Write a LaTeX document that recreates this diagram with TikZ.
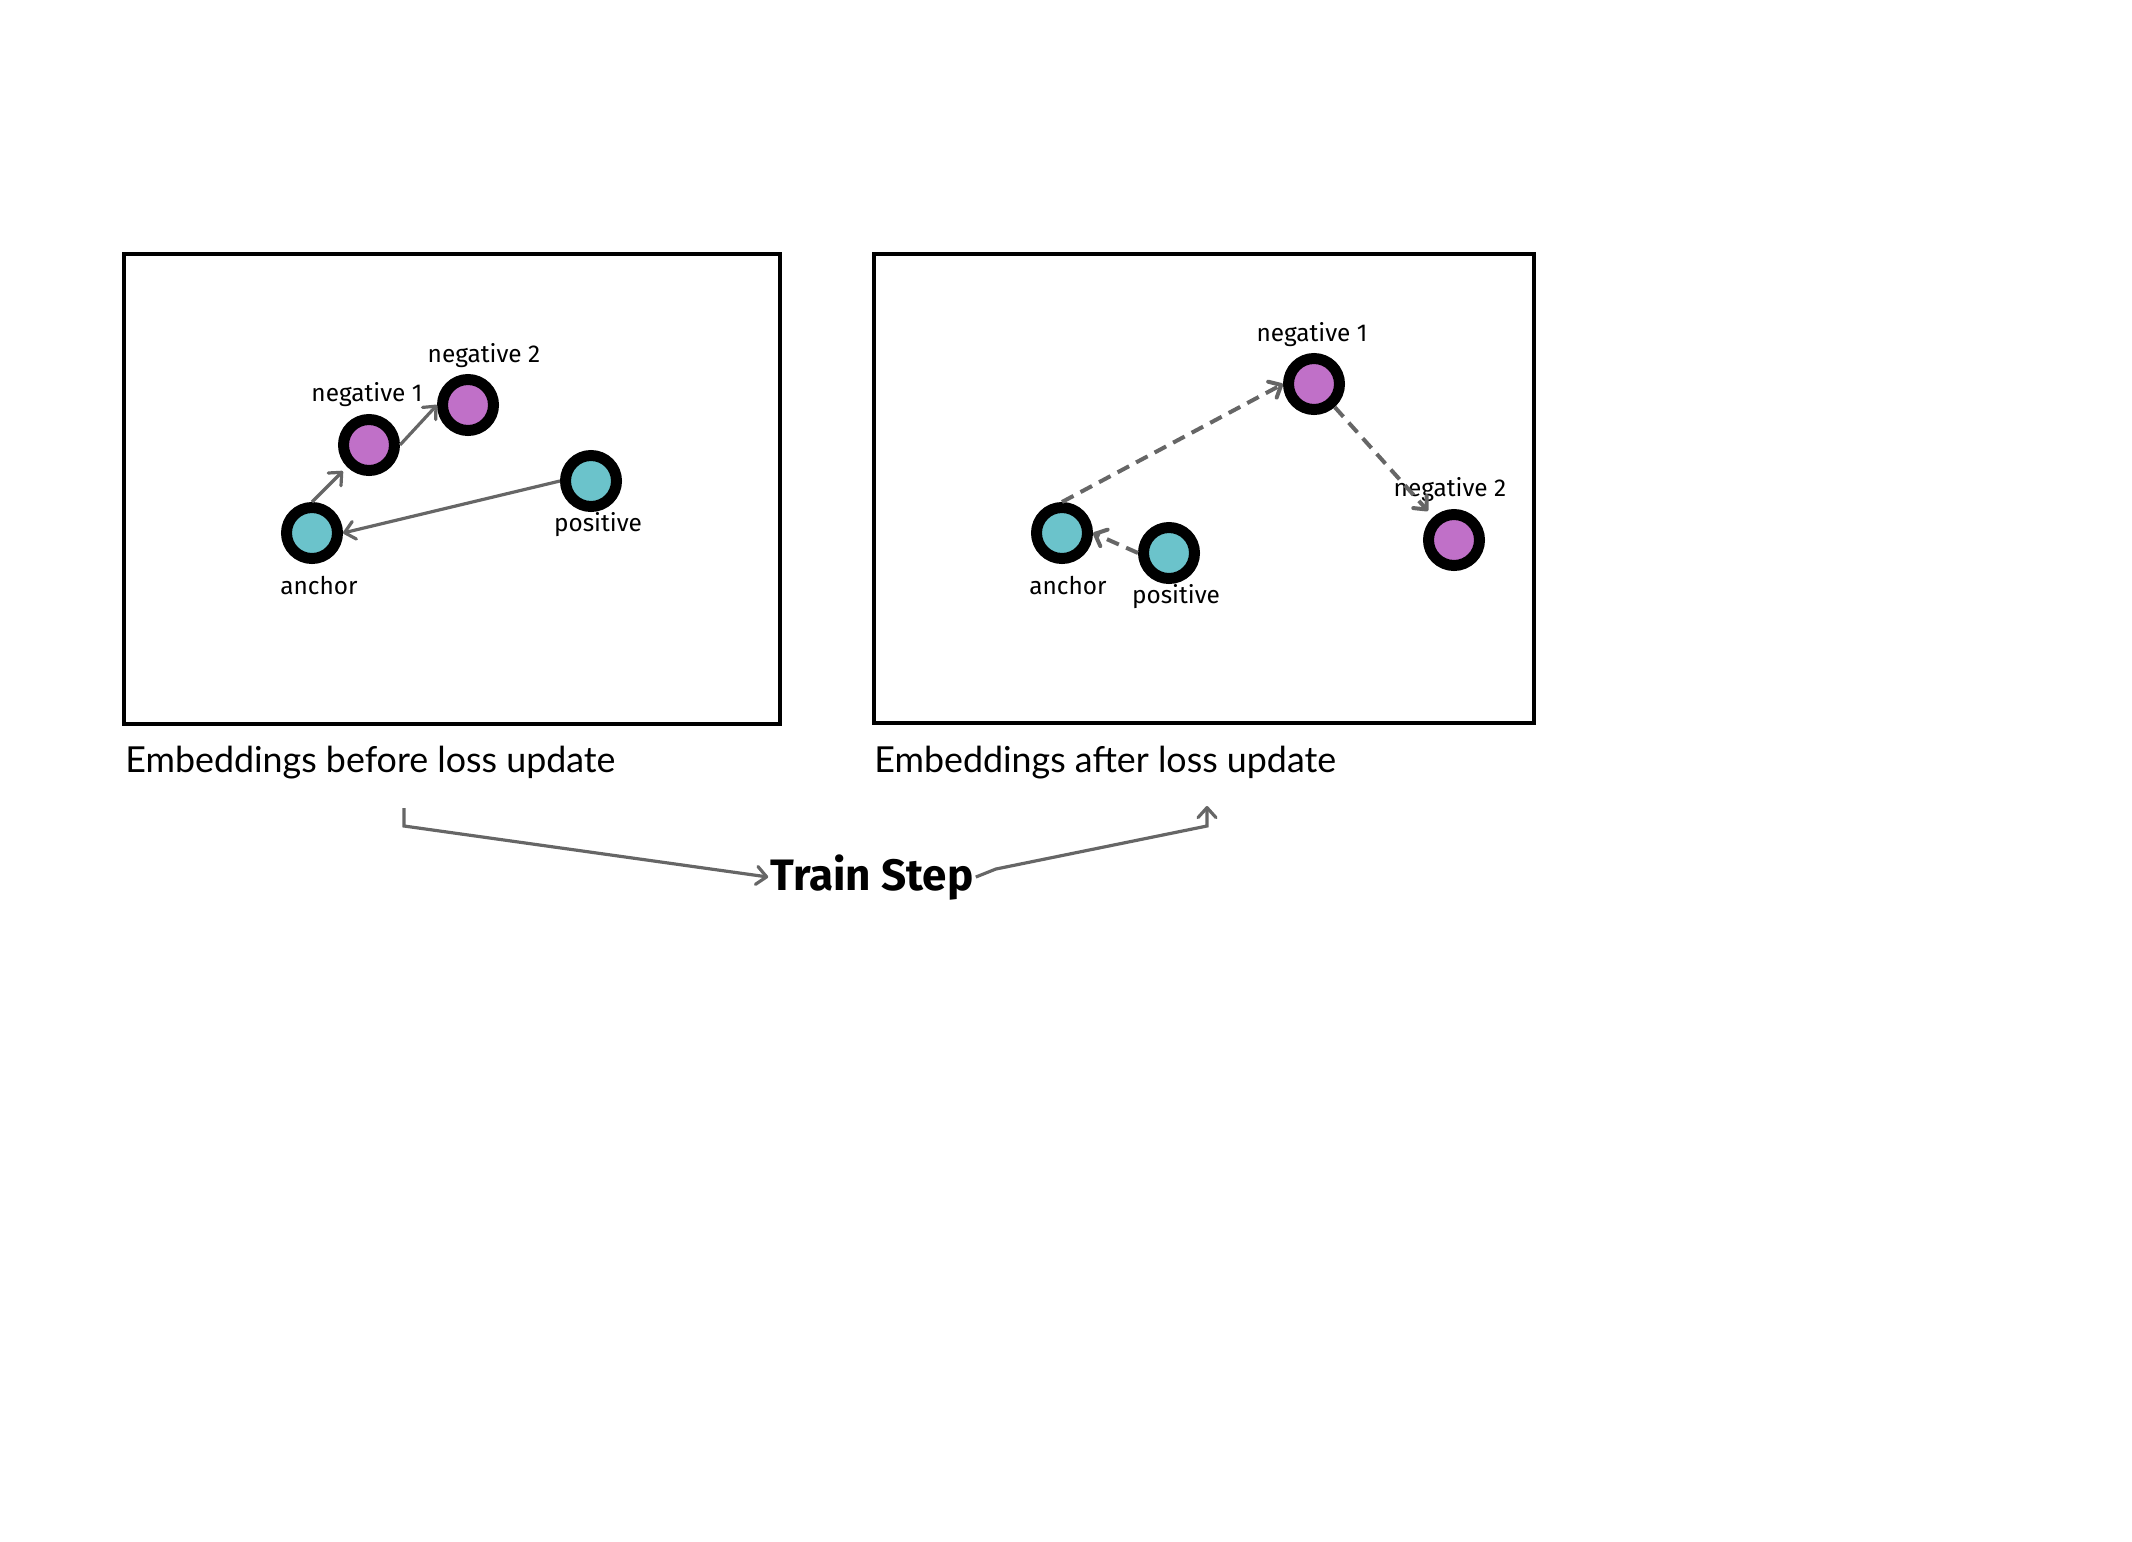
\documentclass[tikz,border=0pt]{standalone}
\usepackage{fontspec}
\setmainfont{Lato}
\newfontfamily\handfont{Fira Sans}
\usepackage{tikz}
\usetikzlibrary{arrows.meta, positioning}
\definecolor{embteal}{HTML}{6BC3CB}
\definecolor{embpurple}{HTML}{C070C8}
\definecolor{arrgray}{HTML}{666666}

\begin{document}
\begin{tikzpicture}[
      x=0.5pt, y=-0.5pt, >={Straight Barb[length=5pt,width=9pt,round]},
      emb/.style={circle, draw=black, line width=5.5pt, minimum size=25.5pt, inner sep=0pt},
      posemb/.style={emb, fill=embteal},
      negemb/.style={emb, fill=embpurple},
      lbl/.style={font=\handfont\fontsize{12.2}{14}\selectfont},
      captxt/.style={font=\fontsize{17.9}{20}\selectfont, anchor=base west, inner sep=0pt},
      arr/.style={->, draw=arrgray, line width=1.6pt},
      darr/.style={arr, line width=2pt, dash pattern=on 6.5pt off 4pt}
      ]
      \useasboundingbox (0,0) rectangle (2132,1542);

      \draw[line width=2pt] (124,254) rectangle (780,724);
      \draw[line width=2pt] (874,254) rectangle (1534,723);

      \node[posemb] (anc_b)  at (312,533) {};
      \node[negemb] (neg1_b) at (369,445) {};
      \node[negemb] (neg2_b) at (468,405) {};
      \node[posemb] (pos_b)  at (591,481) {};
      \node[lbl] at (319,586) {anchor};
      \node[lbl] at (367,395) {negative 1};
      \node[lbl] at (484,356) {negative 2};
      \node[lbl] at (598,525) {positive};
      \draw[arr, shorten >=3pt] (anc_b.north) -- (neg1_b);
      \draw[arr] (neg1_b.east) -- (neg2_b.west);
      \draw[arr] (pos_b.west) -- (anc_b.east);

      \node[posemb] (anc_a)  at (1062,533) {};
      \node[posemb] (pos_a)  at (1169,553) {};
      \node[negemb] (neg1_a) at (1314,384) {};
      \node[negemb] (neg2_a) at (1454,540) {};
      \node[lbl] at (1068,586) {anchor};
      \node[lbl] at (1176,597) {positive};
      \node[lbl] at (1312,335) {negative 1};
      \node[lbl] at (1450,490) {negative 2};
      \draw[darr] (anc_a.north) -- (neg1_a.west);
      \draw[darr, shorten >=4pt] (neg1_a) -- (neg2_a);
      \draw[darr] (pos_a.west) -- (anc_a.east);

      \node[captxt] (cap_b) at (125,772) {Embeddings before loss update};
      \node[captxt] (cap_a) at (874,772) {Embeddings after loss update};

      \node[font=\handfont\bfseries\fontsize{22}{25}\selectfont, anchor=base, inner sep=1pt] (train) at (872,890) {Train Step};
      \coordinate (from) at (404,808);
      \coordinate (to) at (1207,806);
      \draw[arr] (from) -- ++(0,18) -- (train.west);
      \draw[arr] (train.east) -- ++(20,-8) -- (to |- 0,826) -- (to);
    \end{tikzpicture}
\end{document}
